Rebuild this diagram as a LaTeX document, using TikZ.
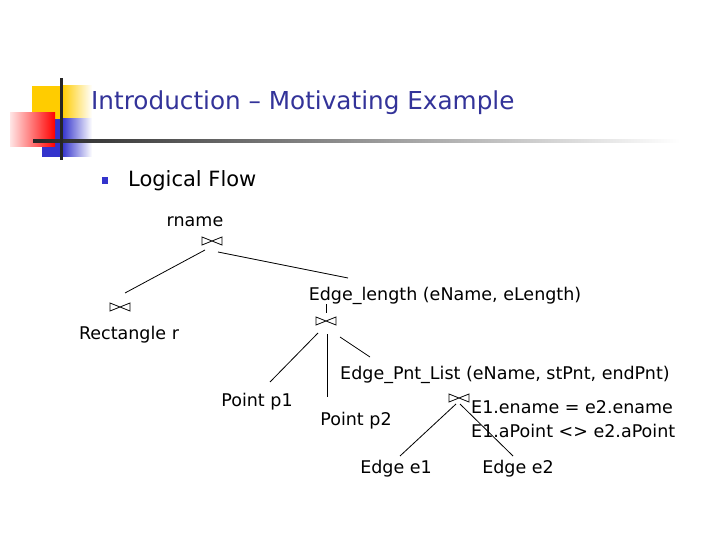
\documentclass[tikz,border=0pt]{standalone}
\usepackage{fontspec}
\setmainfont{DejaVu Sans}
\usetikzlibrary{calc}
\definecolor{titleblue}{RGB}{51,51,153}
\definecolor{bulletblue}{RGB}{51,51,204}
\definecolor{logoyellow}{RGB}{255,204,0}
\definecolor{logored}{RGB}{255,0,0}
\tikzset{
  treetext/.style={inner sep=0pt, anchor=base, font=\fontsize{17.5}{21}\selectfont},
  conn/.style={line width=0.8pt, black},
  bowtie/.pic={\draw[line width=0.8pt] (-10,-4) -- (-10,4) -- (10,-4) -- (10,4) -- cycle;}
}
\begin{document}
\begin{tikzpicture}[x=1pt,y=-1pt]
\useasboundingbox (0,0) rectangle (720,540);
% logo
\fill[logoyellow] (32,86) rectangle (62,119);
\shade[left color=logoyellow, right color=white] (62,86) rectangle (92,119);
\fill[bulletblue] (42,119) rectangle (62,157);
\shade[left color=bulletblue, right color=white] (62,119) rectangle (92,157);
\shade[left color=logored!10, right color=logored] (10,113) rectangle (55,147);
\shade[left color=black!85, right color=white] (33,140) rectangle (680,142.5);
\fill[black!85] (59.5,78) rectangle (62.5,160);
% title
\node[inner sep=0pt, anchor=base west, text=titleblue, font=\fontsize{24.7}{29}\selectfont] (title) at (91,110) {Introduction – Motivating Example};
% bullet
\fill[bulletblue] (102,177) rectangle (108,184) coordinate (bul);
\node[inner sep=0pt, anchor=base west, font=\fontsize{21}{25}\selectfont] (lf) at (128,187) {Logical Flow};
% tree texts
\node[treetext] (rname) at (195,226) {rname};
\node[treetext] (rect) at (129,339) {Rectangle r};
\node[treetext] (elen) at (445,300) {Edge\_length (eName, eLength)};
\node[treetext] (epl) at (505,379) {Edge\_Pnt\_List (eName, stPnt, endPnt)};
\node[treetext] (p1) at (257,406) {Point p1};
\node[treetext] (p2) at (356,425) {Point p2};
\node[treetext, anchor=base west] (c1) at (471,413) {E1.ename = e2.ename};
\node[treetext, anchor=base west] (c2) at (471,437) {E1.aPoint <> e2.aPoint};
\node[treetext] (e1) at (396,473) {Edge e1};
\node[treetext] (e2) at (518,473) {Edge e2};
% joins
\coordinate (j1) at (212,241);
\coordinate (j2) at (120,307);
\coordinate (j3) at (326,321);
\coordinate (j4) at (459,398);
\pic at (j1) {bowtie};
\pic at (j2) {bowtie};
\pic at (j3) {bowtie};
\pic at (j4) {bowtie};
% connector end points
\coordinate (a1) at (205,250); \coordinate (a2) at (125,293);
\coordinate (b1) at (218,252); \coordinate (b2) at (348,278);
\coordinate (t1) at (326,304); \coordinate (t2) at (326,313);
\coordinate (c1a) at (318,333); \coordinate (c1b) at (270,382);
\coordinate (v1) at (327,334); \coordinate (v2) at (327,397);
\coordinate (d1) at (340,337); \coordinate (d2) at (370,357);
\coordinate (f1) at (456,404); \coordinate (f2) at (400,456);
\coordinate (g1) at (460,404); \coordinate (g2) at (513,456);
\draw[conn] (a1) -- (a2);
\draw[conn] (b1) -- (b2);
\draw[conn] (t1) -- (t2);
\draw[conn] (c1a) -- (c1b);
\draw[conn] (v1) -- (v2);
\draw[conn] (d1) -- (d2);
\draw[conn] (f1) -- (f2);
\draw[conn] (g1) -- (g2);
\end{tikzpicture}
\end{document}
